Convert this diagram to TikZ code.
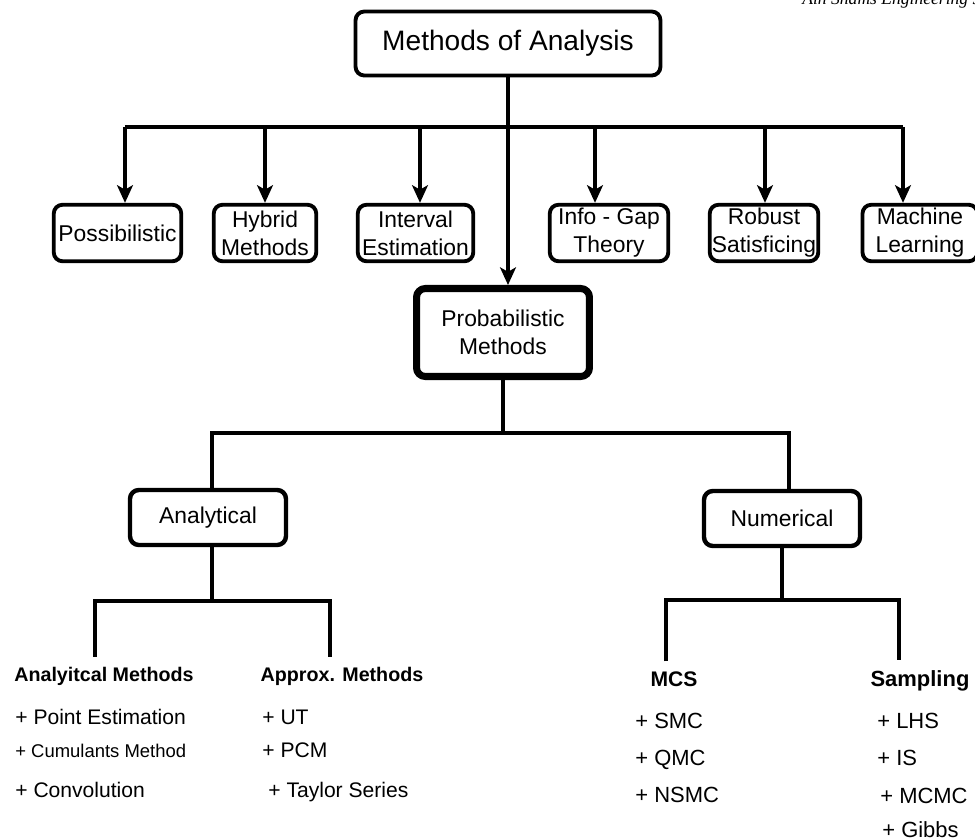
\documentclass[tikz,border=0pt]{standalone}
\usepackage{fontspec}
\setmainfont{Liberation Sans}
\newfontfamily\hdrfont{Liberation Serif}
\usetikzlibrary{arrows.meta,positioning,calc}

\begin{document}
\begin{tikzpicture}[x=0.02cm, y=-0.02cm,
    every node/.style={font=\fontsize{13}{16}\selectfont},
    box/.style={draw, line width=2.2pt, rounded corners=5pt, align=center, minimum height=1.13cm, inner sep=1pt},
    conn/.style={line width=2pt},
    arr/.style={conn, -{Stealth[length=10pt, width=9pt, inset=2.5pt]}},
    head/.style={anchor=base, inner xsep=0pt, inner ysep=5.5pt, font=\fontsize{11.2}{13}\selectfont\bfseries},
    item/.style={anchor=base west, inner sep=0pt, font=\fontsize{12}{14}\selectfont}]
    \useasboundingbox (0,0) rectangle (975,839);

    % Journal header (cut at the top edge)
    \node[anchor=base west, inner sep=0pt, font=\hdrfont\itshape\fontsize{10}{12}\selectfont] (hdr) at (802,4) {Ain Shams Engineering Journal};

    % Root
    \node[box, minimum width=6.1cm, minimum height=1.28cm, font=\fontsize{16}{19}\selectfont] (title) at (508,43.5) {Methods of Analysis};

    % First level
    \node[box, minimum width=2.55cm] (poss) at (117.5,233) {Possibilistic};
    \node[box, minimum width=2.05cm] (hyb) at (265,233) {Hybrid\\Methods};
    \node[box, minimum width=2.31cm] (intv) at (415.5,233) {Interval\\Estimation};
    \node[box, minimum width=2.37cm] (info) at (609,233) {Info - Gap\\Theory};
    \node[box, minimum width=2.17cm] (rob) at (764,233) {Robust\\Satisficing};
    \node[box, minimum width=2.30cm] (mach) at (920,233) {Machine\\Learning};

    \node[box, line width=4pt, minimum width=3.46cm, minimum height=1.76cm] (prob) at (503,332.5) {Probabilistic\\Methods};

    % Second level
    \node[box, line width=2.5pt, minimum width=3.12cm, minimum height=1.1cm] (anal) at (208,517.5) {Analytical};
    \node[box, line width=2.5pt, minimum width=3.12cm, minimum height=1.1cm] (num) at (782,518.5) {Numerical};

    \coordinate (bus) at (508,127);
    \coordinate (bus2) at (500,433);
    \coordinate (lbusL) at (212,601);
    \coordinate (lbusR) at (783,600);

    % Method lists
    \node[head] (anm) at (104,681) {Analyitcal Methods};
    \node[head] (apx) at (342,681) {Approx. Methods};
    \node[head, font=\fontsize{12}{14}\selectfont\bfseries] (mcs) at (674,686) {MCS};
    \node[head, font=\fontsize{12.5}{15}\selectfont\bfseries] (smp) at (920,686) {Sampling};

    \node[item] (pe) at (15,724) {+ Point Estimation};
    \node[item, font=\fontsize{10.5}{12}\selectfont] (cm) at (15,757) {+ Cumulants Method};
    \node[item] (cv) at (15,797) {+ Convolution};
    \node[item] (ut) at (262,724) {+ UT};
    \node[item] (pcm) at (262,757) {+ PCM};
    \node[item] (ts) at (268,797) {+ Taylor Series};

    \foreach \nm/\yy/\txt in {smc/728/SMC, qmc/765/QMC, nsmc/802/NSMC}
        \node[item, font=\fontsize{12.5}{15}\selectfont] (\nm) at (635,\yy) {+ \txt};
    \foreach \nm/\xx/\yy/\txt in {lhs/877/728/LHS, is/877/765/IS, mcmc/880/803/MCMC, gibbs/882/837/Gibbs}
        \node[item, font=\fontsize{12.5}{15}\selectfont] (\nm) at (\xx,\yy) {+ \txt};

    % Connectors
    \draw[arr] (title.south) -- (title.south |- prob.north);
    \draw[conn] ([xshift=0.15cm]poss.north |- bus) -- ([xshift=-0.34cm]mach.north |- bus);
    \foreach \nm/\dx in {poss/0.15, hyb/0, intv/0.09, info/-0.28, rob/0.02, mach/-0.34}
        \draw[arr] ([xshift=\dx cm]\nm.north |- bus) -- ([xshift=\dx cm]\nm.north);

    \draw[conn] (prob.south) -- (prob.south |- bus2);
    \draw[conn] ([xshift=0.08cm]anal.north) |- ([xshift=0.14cm]num.north |- bus2) -- ([xshift=0.14cm]num.north);

    \draw[conn] ([xshift=0.08cm]anal.south) -- ([xshift=0.08cm]anal.south |- lbusL);
    \draw[conn] ([xshift=-0.18cm]anm.north) |- ([xshift=-0.24cm]apx.north |- lbusL) -- ([xshift=-0.24cm]apx.north);

    \draw[conn] (num.south) -- (num.south |- lbusR);
    \draw[conn] ([xshift=-0.16cm]mcs.north) |- ([xshift=-0.42cm]smp.north |- lbusR) -- ([xshift=-0.42cm]smp.north);
\end{tikzpicture}
\end{document}
